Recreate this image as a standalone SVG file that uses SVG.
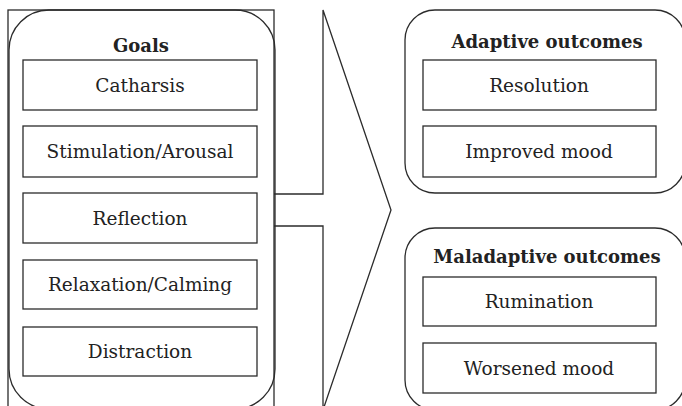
<svg xmlns="http://www.w3.org/2000/svg" width="682" height="406" viewBox="0 0 682 406">
<style>
.ln{fill:none;stroke:#2b2b2b;stroke-width:1.3}
.bx{fill:#fff;stroke:#2b2b2b;stroke-width:1.3}
.t{font-family:"DejaVu Serif","Liberation Serif",serif;font-size:18.5px;fill:#222;text-anchor:middle}
.h{font-family:"DejaVu Serif","Liberation Serif",serif;font-size:18px;font-weight:bold;fill:#222;text-anchor:middle}
</style>
<rect width="682" height="406" fill="#fff"/>
<g id="goals">
<rect class="ln" x="8" y="10" width="266" height="410"/>
<rect class="ln" x="9" y="10" width="266" height="399" rx="40" ry="40"/>
<text class="h" x="141" y="52">Goals</text>
<g id="catharsis"><rect class="bx" x="23" y="60" width="234" height="50"/><text class="t" x="140" y="92">Catharsis</text></g>
<g id="stimulation"><rect class="bx" x="23" y="126" width="234" height="51"/><text class="t" x="140" y="158">Stimulation/Arousal</text></g>
<g id="reflection"><rect class="bx" x="23" y="193" width="234" height="50"/><text class="t" x="140" y="225">Reflection</text></g>
<g id="relaxation"><rect class="bx" x="23" y="260" width="234" height="49"/><text class="t" x="140" y="291">Relaxation/Calming</text></g>
<g id="distraction"><rect class="bx" x="23" y="327" width="234" height="49"/><text class="t" x="140" y="358">Distraction</text></g>
</g>
<g id="connectors">
<polyline class="ln" points="274,194 323,194 323,10 391,210 323,410 323,226 274,226"/>
</g>
<g id="adaptive">
<rect class="ln" x="405" y="10" width="280" height="183" rx="30" ry="30"/>
<text class="h" x="547" y="48">Adaptive outcomes</text>
<g id="resolution"><rect class="bx" x="423" y="60" width="233" height="50"/><text class="t" x="539" y="92">Resolution</text></g>
<g id="improved"><rect class="bx" x="423" y="126" width="233" height="51"/><text class="t" x="539" y="158">Improved mood</text></g>
</g>
<g id="maladaptive">
<rect class="ln" x="405" y="228" width="280" height="182" rx="30" ry="30"/>
<text class="h" x="547" y="263">Maladaptive outcomes</text>
<g id="rumination"><rect class="bx" x="423" y="277" width="233" height="49"/><text class="t" x="539" y="308">Rumination</text></g>
<g id="worsened"><rect class="bx" x="423" y="343" width="233" height="50"/><text class="t" x="539" y="375">Worsened mood</text></g>
</g>
</svg>
